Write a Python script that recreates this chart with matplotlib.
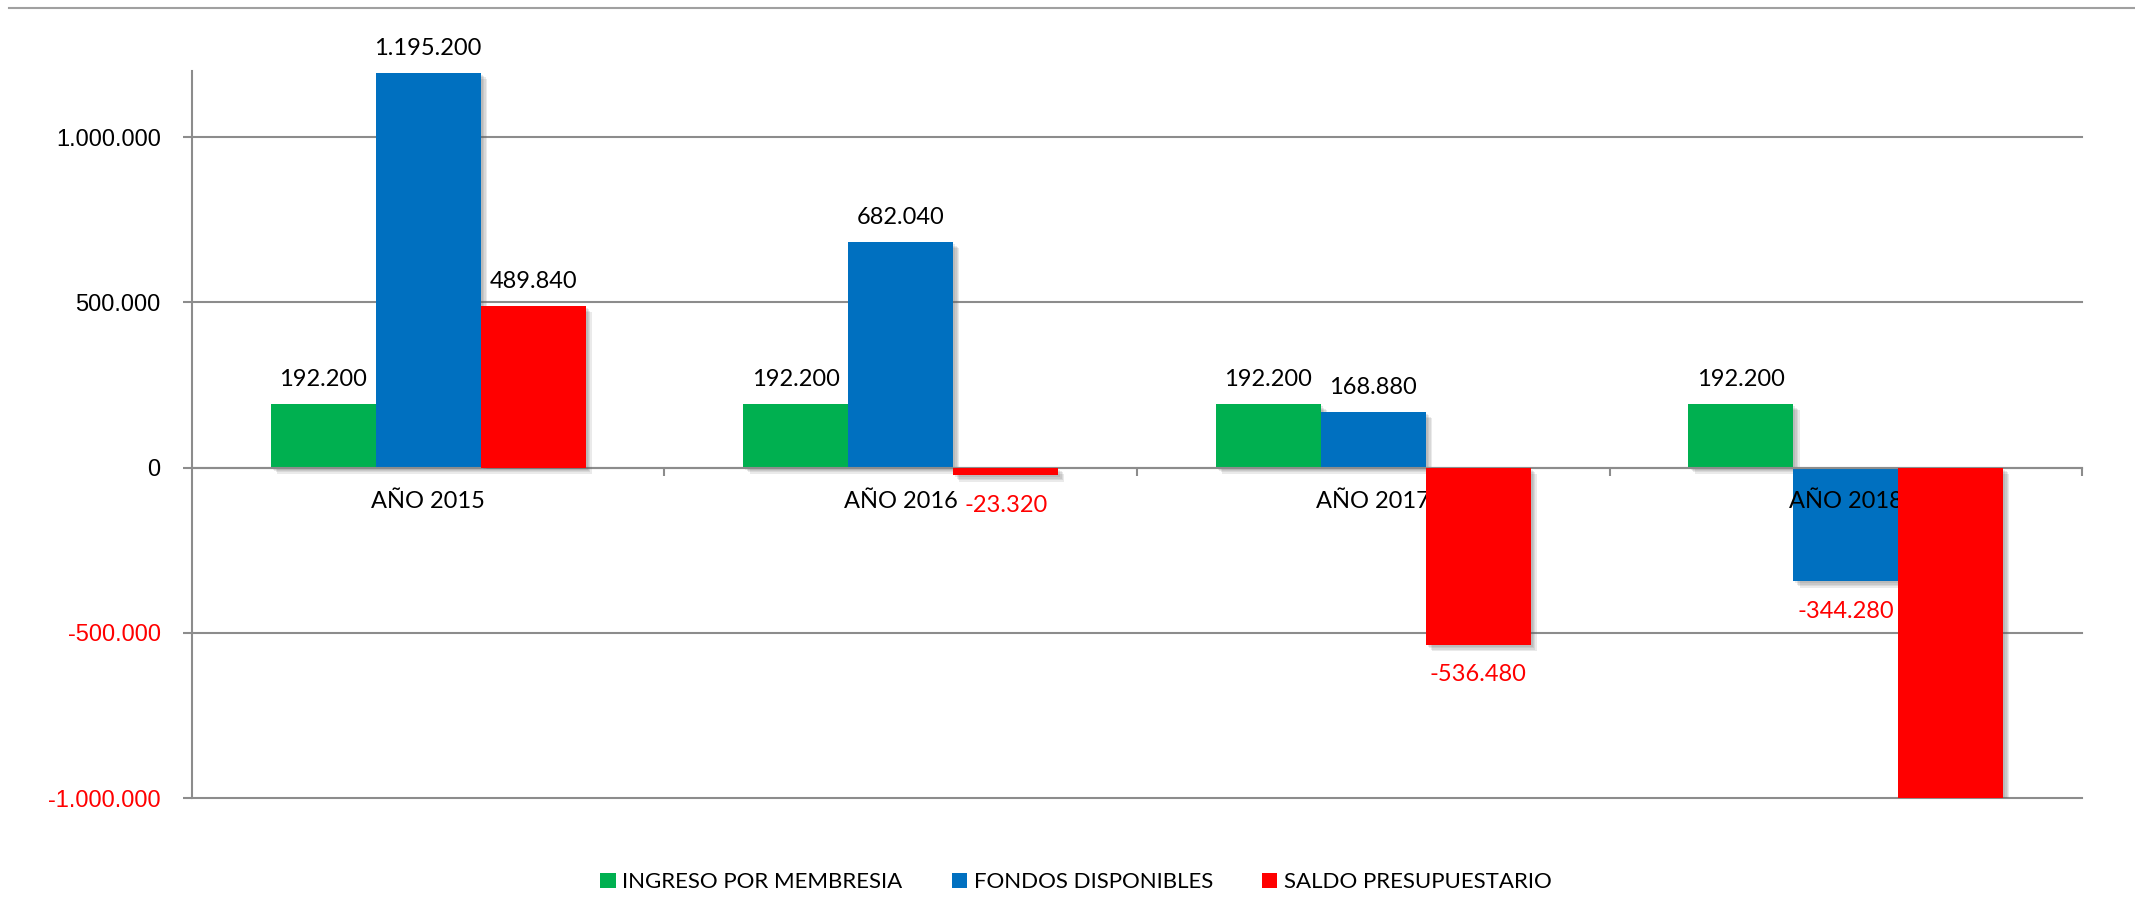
import matplotlib
matplotlib.use('Agg')
import matplotlib.pyplot as plt
import matplotlib.patheffects as pe
from matplotlib.patches import Patch
from matplotlib.lines import Line2D
import numpy as np

categories = ['AÑO 2015', 'AÑO 2016', 'AÑO 2017', 'AÑO 2018']
series_names = ['INGRESO POR MEMBRESIA', 'FONDOS DISPONIBLES', 'SALDO PRESUPUESTARIO']
ingreso = [192200, 192200, 192200, 192200]
fondos = [1195200, 682040, 168880, -344280]
saldo = [489840, -23320, -536480, -1049640]
y_ticks = [-1000000, -500000, 0, 500000, 1000000]

colors = ['#00B050', '#0070C0', '#FF0000']
gray = '#8C8C8C'


def fmt(v):
    return f"{v:,.0f}".replace(',', '.')


fig = plt.figure(figsize=(21.35, 9.16), dpi=100)
ax = fig.add_axes([0.0899, 0.1288, 0.9752 - 0.0899, 0.9225 - 0.1288])

x = np.arange(len(categories))
w = 0.222
shadow = [pe.SimplePatchShadow(offset=(o, -o), shadow_rgbFace='#606060', alpha=0.13)
          for o in (1.5, 2.5, 3.5, 4.5)] + [pe.Normal()]

bar_z = [2, 2, 3]
for i, (vals, c) in enumerate(zip([ingreso, fondos, saldo], colors)):
    xs = x + (i - 1) * w
    ax.bar(xs, vals, w, color=c, zorder=bar_z[i], path_effects=shadow)
    for xi, v in zip(xs, vals):
        if v >= 0:
            ax.annotate(fmt(v), (xi, v), xytext=(0, 10), textcoords='offset points',
                        ha='center', va='bottom', color='black', fontsize=17,
                        family='Lato', zorder=5)
        else:
            ax.annotate(fmt(v), (xi, v), xytext=(0, -14), textcoords='offset points',
                        ha='center', va='top', color='red', fontsize=17,
                        family='Lato', zorder=5)

# category labels just below the zero line, drawn between blue and red bars
for xi, cat in zip(x, categories):
    ax.annotate(cat, (xi, 0), xytext=(0, -17), textcoords='offset points',
                ha='center', va='top', color='black', fontsize=17, family='Lato',
                zorder=2.5)

ax.set_xlim(-0.5, 3.5)
ax.set_ylim(-1000000, 1200000)
ax.set_axisbelow(True)

ax.set_yticks(y_ticks, [fmt(v) for v in y_ticks])
for lab, v in zip(ax.get_yticklabels(), y_ticks):
    lab.set_color('red' if v < 0 else 'black')
    lab.set_fontfamily('Liberation Sans')
    lab.set_fontsize(17)
ax.tick_params(axis='y', length=6.5, width=1.5, color=gray, pad=16)
ax.yaxis.grid(True, color=gray, linewidth=1.5)
for gl in ax.get_ygridlines():
    gl.set_clip_on(False)

ax.set_xticks([0.5, 1.5, 2.5, 3.5], ['', '', '', ''])
ax.tick_params(axis='x', which='major', length=6, width=1.5, color=gray, direction='out')

for s in ['top', 'right']:
    ax.spines[s].set_visible(False)
ax.spines['bottom'].set_position(('data', 0))
ax.spines['bottom'].set_color(gray)
ax.spines['bottom'].set_linewidth(1.5)
ax.spines['left'].set_color(gray)
ax.spines['left'].set_linewidth(1.5)

handles = [Patch(facecolor=c, edgecolor='none') for c in colors]
fig.legend(handles, series_names, loc='center', bbox_to_anchor=(0.504, 0.037), ncol=3,
           frameon=False, prop={'family': 'Lato', 'size': 16}, handlelength=0.7,
           handleheight=0.7, handletextpad=0.3, columnspacing=2.2)

fig.add_artist(Line2D([9 / 2135, 1], [1 - 8 / 916, 1 - 8 / 916], transform=fig.transFigure,
                      color='#A0A0A0', linewidth=1.5))

fig.savefig('out.png', dpi=100)
